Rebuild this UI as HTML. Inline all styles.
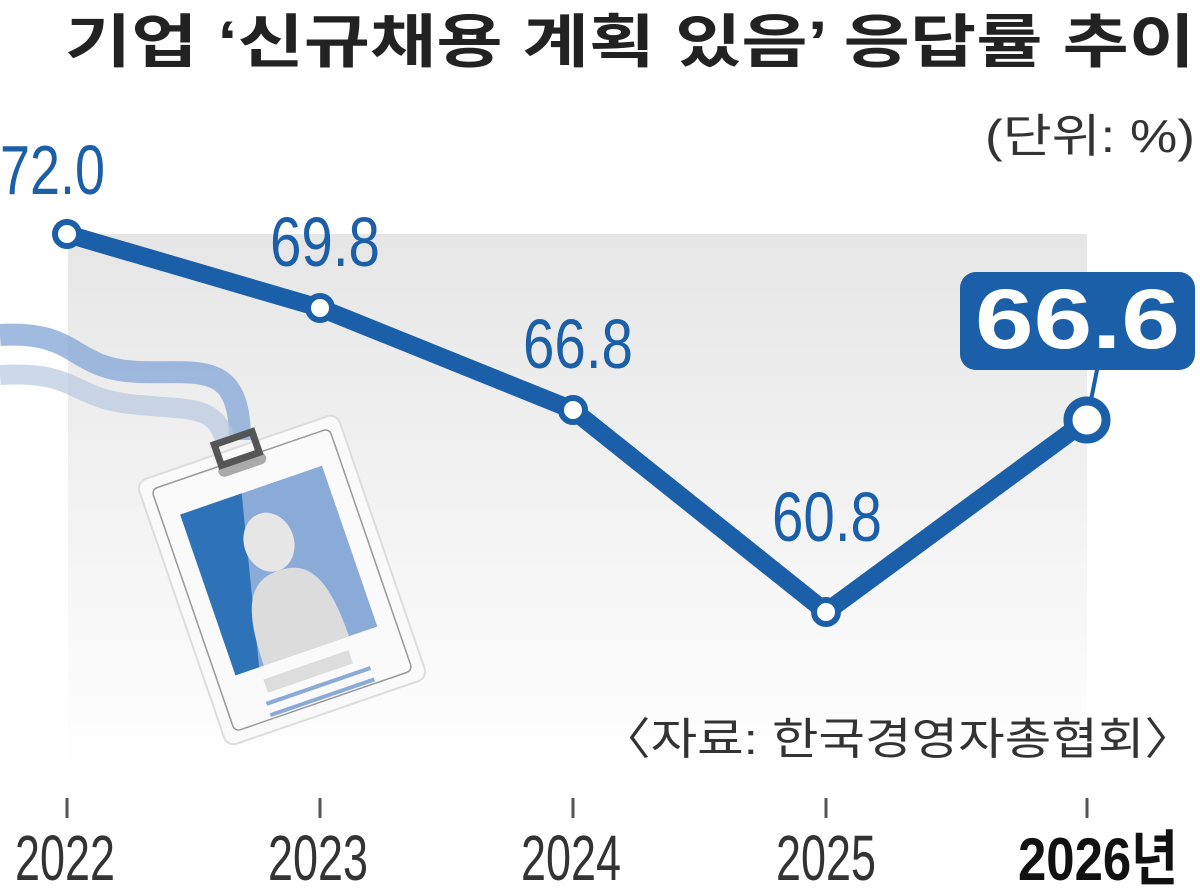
<!DOCTYPE html>
<html><head><meta charset="utf-8"><style>
body{margin:0;background:#fff}
svg text{font-family:"Liberation Sans","Noto Sans CJK KR",sans-serif}
</style></head><body>
<svg width="1200" height="887" viewBox="0 0 1200 887">
<defs>
<linearGradient id="bg" x1="0" y1="0" x2="0" y2="1">
<stop offset="0" stop-color="#e6e6e6"/><stop offset="1" stop-color="#ffffff"/>
</linearGradient>
</defs>
<rect x="68" y="234" width="1019" height="540" fill="url(#bg)"/>
<text x="65" y="62" font-size="58" font-weight="bold" fill="#222" textLength="1130" lengthAdjust="spacingAndGlyphs">기업 ‘신규채용 계획 있음’ 응답률 추이</text>
<text x="985" y="152" font-size="46" fill="#333" textLength="210" lengthAdjust="spacingAndGlyphs">(단위: %)</text>
<path d="M0,335 C80,330 70,370 140,372 C200,374 240,360 240,440" stroke="#8aaad8" stroke-width="22" fill="none" opacity="0.8"/>
<path d="M0,375 C80,370 70,400 140,405 C190,410 215,405 225,440" stroke="#b8c8e0" stroke-width="20" fill="none" opacity="0.7"/>
<g transform="translate(282,580) rotate(-19)">
<rect x="-106" y="-140" width="212" height="280" rx="10" fill="#fafafa" stroke="#ddd" stroke-width="2"/>
<rect x="-94" y="-128" width="188" height="256" rx="6" fill="none" stroke="#999" stroke-width="1.5"/>
<rect x="-25" y="-128" width="50" height="12" rx="6" fill="#aaa"/>
<rect x="-20" y="-150" width="40" height="22" fill="none" stroke="#555" stroke-width="7"/>
<rect x="-75" y="-95" width="150" height="170" fill="#8aaad8"/>
<polygon points="-75,-95 -10,-95 -50,75 -75,75" fill="#2e72b8"/>
<ellipse cx="0" cy="-40" rx="25" ry="30" fill="#e6e6e6"/>
<path d="M-45,75 C-45,10 -30,-10 0,-10 C30,-10 45,10 45,75 Z" fill="#dcdcdc"/>
<rect x="-50" y="88" width="90" height="14" fill="#ddd"/>
<line x1="-55" y1="112" x2="55" y2="112" stroke="#8aaad8" stroke-width="4"/>
<line x1="-55" y1="124" x2="55" y2="124" stroke="#8aaad8" stroke-width="4"/>
</g>
<g stroke="#555" stroke-width="3">
<line x1="67" y1="798" x2="67" y2="818"/><line x1="320" y1="798" x2="320" y2="818"/>
<line x1="573" y1="798" x2="573" y2="818"/><line x1="826" y1="798" x2="826" y2="818"/>
<line x1="1087" y1="798" x2="1087" y2="818"/>
</g>
<g font-size="64" fill="#333">
<text x="15" y="880" textLength="100" lengthAdjust="spacingAndGlyphs">2022</text>
<text x="268" y="880" textLength="100" lengthAdjust="spacingAndGlyphs">2023</text>
<text x="521" y="880" textLength="100" lengthAdjust="spacingAndGlyphs">2024</text>
<text x="776" y="880" textLength="100" lengthAdjust="spacingAndGlyphs">2025</text>
<text x="1018" y="880" font-size="60" font-weight="bold" fill="#111" textLength="160" lengthAdjust="spacingAndGlyphs">2026년</text>
</g>
<text x="600" y="754" font-size="44" fill="#333" textLength="595" lengthAdjust="spacingAndGlyphs">〈자료: 한국경영자총협회〉</text>
<polyline points="67,234 320,308 573,410 826,612 1087,420" fill="none" stroke="#1a5fa8" stroke-width="18" stroke-linejoin="round"/>
<line x1="1087" y1="420" x2="1098" y2="365" stroke="#1a5fa8" stroke-width="4"/>
<g fill="#fff" stroke="#1a5fa8" stroke-width="6">
<circle cx="67" cy="234" r="12"/><circle cx="320" cy="308" r="12"/>
<circle cx="573" cy="410" r="12"/><circle cx="826" cy="612" r="12"/>
<circle cx="1087" cy="420" r="19" stroke-width="9"/>
</g>
<g font-size="70" fill="#1a5fa8">
<text x="0" y="194" textLength="105" lengthAdjust="spacingAndGlyphs">72.0</text>
<text x="270" y="266" textLength="110" lengthAdjust="spacingAndGlyphs">69.8</text>
<text x="523" y="368" textLength="110" lengthAdjust="spacingAndGlyphs">66.8</text>
<text x="772" y="541" textLength="110" lengthAdjust="spacingAndGlyphs">60.8</text>
</g>
<rect x="960" y="272" width="235" height="98" rx="16" fill="#1a5fa8"/>
<text x="975" y="348" font-size="84" font-weight="bold" fill="#fff" textLength="205" lengthAdjust="spacingAndGlyphs">66.6</text>
</svg>
</body></html>
